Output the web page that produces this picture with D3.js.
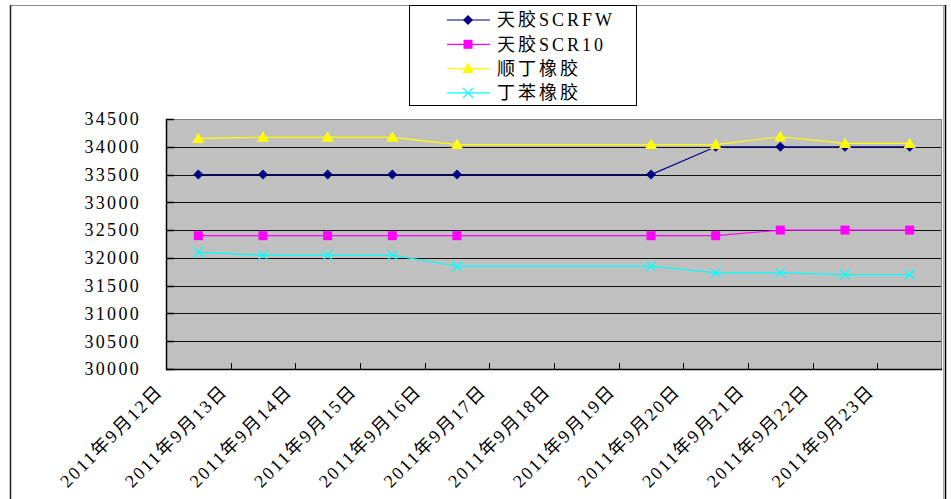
<!DOCTYPE html>
<html>
<head>
<meta charset="utf-8">
<script src="https://cdn.jsdelivr.net/npm/d3@7"></script>
<style>
  body { margin: 0; background: #fff; }
  text { font-family: "Liberation Serif", "Noto Sans CJK SC", serif; fill: #000; }
</style>
</head>
<body>
<div id="chart"></div>
<script>
var w = 951;
var h = 499;

// categories (x axis)
var days = ["2011年9月12日", "2011年9月13日", "2011年9月14日", "2011年9月15日",
            "2011年9月16日", "2011年9月17日", "2011年9月18日", "2011年9月19日",
            "2011年9月20日", "2011年9月21日", "2011年9月22日", "2011年9月23日"];

// series values, null = no quote that day
var scrfw = [33500, 33500, 33500, 33500, 33500, null, null, 33500, 34000, 34000, 34000, 34000];
var scr10 = [32400, 32400, 32400, 32400, 32400, null, null, 32400, 32400, 32500, 32500, 32500];
var shunding = [34150, 34170, 34170, 34170, 34040, null, null, 34040, 34040, 34180, 34060, 34060];
var dingben = [32100, 32050, 32050, 32050, 31850, null, null, 31850, 31730, 31730, 31700, 31700];

var seriesNames = ["天胶SCRFW", "天胶SCR10", "顺丁橡胶", "丁苯橡胶"];
var seriesColours = ["#000080", "#ff00ff", "#ffff00", "#00ffff"];
var seriesMarkers = ["diamond", "square", "triangle", "cross"];
var seriesValues = [scrfw, scr10, shunding, dingben];

var svg = d3.select("#chart").append("svg")
    .attr("width", w)
    .attr("height", h);

// plot area
var pLeft = 166, pRight = 942, pTop = 119, pBottom = 369;

var x = d3.scaleBand()
    .domain(days)
    .range([pLeft, pRight])
    .padding(0);

var y = d3.scaleLinear()
    .domain([30000, 34500])
    .range([pBottom, pTop]);

// outer chart border
svg.append("line").attr("x1", 10).attr("y1", 5.5).attr("x2", 945).attr("y2", 5.5)
    .attr("stroke", "#8a8a8a").attr("stroke-width", 1);
svg.append("line").attr("x1", 10.5).attr("y1", 5).attr("x2", 10.5).attr("y2", h)
    .attr("stroke", "#222").attr("stroke-width", 1.5);
svg.append("line").attr("x1", 943.5).attr("y1", 5).attr("x2", 943.5).attr("y2", h)
    .attr("stroke", "#aaa").attr("stroke-width", 1);
svg.append("line").attr("x1", 945.5).attr("y1", 5).attr("x2", 945.5).attr("y2", h)
    .attr("stroke", "#000").attr("stroke-width", 1.5);

// grey plot background
svg.append("rect")
    .attr("x", pLeft).attr("y", pTop)
    .attr("width", pRight - pLeft).attr("height", pBottom - pTop)
    .attr("fill", "#c0c0c0");

// horizontal gridlines + y labels
var yTicks = y.ticks(9);
svg.selectAll(".grid")
    .data(yTicks)
    .enter()
    .append("line")
    .attr("class", "grid")
    .attr("x1", pLeft).attr("x2", pRight)
    .attr("y1", function(d) { return Math.round(y(d)) + 0.5; })
    .attr("y2", function(d) { return Math.round(y(d)) + 0.5; })
    .attr("stroke", function(d) { return d == 34500 ? "#808080" : "#111"; })
    .attr("stroke-width", 1);

// small inner ticks on the y axis
svg.selectAll(".ytick")
    .data(yTicks)
    .enter()
    .append("line")
    .attr("x1", pLeft).attr("x2", pLeft + 8)
    .attr("y1", function(d) { return Math.round(y(d)) + 0.5; })
    .attr("y2", function(d) { return Math.round(y(d)) + 0.5; })
    .attr("stroke", "#000").attr("stroke-width", 1.5);

svg.selectAll(".ylab")
    .data(yTicks)
    .enter()
    .append("text")
    .attr("class", "ylab")
    .attr("x", 141)
    .attr("y", function(d) { return y(d); })
    .attr("dy", "0.35em")
    .attr("text-anchor", "end")
    .attr("font-size", "18px")
    .attr("letter-spacing", "2.3px")
    .text(function(d) { return d; });

// plot borders
svg.append("line").attr("x1", pRight - 0.5).attr("x2", pRight - 0.5).attr("y1", pTop).attr("y2", pBottom)
    .attr("stroke", "#808080");
svg.append("line").attr("x1", pLeft + 0.5).attr("x2", pLeft + 0.5).attr("y1", pTop).attr("y2", pBottom + 1)
    .attr("stroke", "#000").attr("stroke-width", 1.5);
svg.append("line").attr("x1", pLeft).attr("x2", pRight).attr("y1", pBottom + 0.5).attr("y2", pBottom + 0.5)
    .attr("stroke", "#000").attr("stroke-width", 1.5);

// x ticks at category boundaries (pointing inward)
var xEdges = days.map(function(d) { return x(d); }).concat([pRight]);
svg.selectAll(".xtick")
    .data(xEdges.slice(1, -1))
    .enter()
    .append("line")
    .attr("x1", function(d) { return Math.round(d) + 0.5; })
    .attr("x2", function(d) { return Math.round(d) + 0.5; })
    .attr("y1", pBottom - 6).attr("y2", pBottom)
    .attr("stroke", "#000");

// rotated category labels
svg.selectAll(".xlab")
    .data(days)
    .enter()
    .append("text")
    .attr("class", "xlab")
    .attr("text-anchor", "end")
    .attr("font-size", "18px")
    .attr("letter-spacing", "2px")
    .attr("transform", function(d) {
        return "translate(" + (x(d) - 2) + "," + 392 + ") rotate(-45)";
    })
    .text(function(d) { return d; });

// series lines and markers
var line = d3.line()
    .x(function(d) { return x(d.day) + x.bandwidth() / 2; })
    .y(function(d) { return y(d.value); });

function markerPath(type) {
    if (type == "diamond") return "M0,-5L5,0L0,5L-5,0Z";
    if (type == "square") return "M-4.5,-4.5H4.5V4.5H-4.5Z";
    if (type == "triangle") return "M0,-6L6,4.5L-6,4.5Z";
    return "M-5,-5L5,5M-5,5L5,-5";
}

seriesValues.forEach(function(vals, s) {
    var pts = [];
    vals.forEach(function(v, i) {
        if (v != null) pts.push({ day: days[i], value: v });
    });

    svg.append("path")
        .datum(pts)
        .attr("d", line)
        .attr("fill", "none")
        .attr("stroke", seriesColours[s])
        .attr("stroke-width", 1.2);

    svg.selectAll(".m" + s)
        .data(pts)
        .enter()
        .append("path")
        .attr("class", "m" + s)
        .attr("transform", function(d) {
            return "translate(" + (x(d.day) + x.bandwidth() / 2) + "," + y(d.value) + ")";
        })
        .attr("d", markerPath(seriesMarkers[s]))
        .attr("fill", seriesMarkers[s] == "cross" ? "none" : seriesColours[s])
        .attr("stroke", seriesColours[s])
        .attr("stroke-width", seriesMarkers[s] == "cross" ? 1.3 : 0);
});

// legend
var legend = svg.append("g");
legend.append("rect")
    .attr("x", 409.5).attr("y", 5.5)
    .attr("width", 227).attr("height", 100)
    .attr("fill", "#fff")
    .attr("stroke", "#000").attr("stroke-width", 1);

var rows = legend.selectAll(".row")
    .data(seriesNames)
    .enter()
    .append("g")
    .attr("transform", function(d, i) { return "translate(0," + (20 + i * 24.3) + ")"; });

rows.append("line")
    .attr("x1", 447).attr("x2", 490)
    .attr("y1", 0).attr("y2", 0)
    .attr("stroke", function(d, i) { return seriesColours[i]; })
    .attr("stroke-width", 1.2);

rows.append("path")
    .attr("transform", "translate(468,0)")
    .attr("d", function(d, i) { return markerPath(seriesMarkers[i]); })
    .attr("fill", function(d, i) { return seriesMarkers[i] == "cross" ? "none" : seriesColours[i]; })
    .attr("stroke", function(d, i) { return seriesColours[i]; })
    .attr("stroke-width", function(d, i) { return seriesMarkers[i] == "cross" ? 1.3 : 0; });

rows.append("text")
    .attr("x", 497)
    .attr("dy", "0.35em")
    .attr("font-size", "18px")
    .attr("letter-spacing", "3px")
    .text(function(d) { return d; });
</script>
</body>
</html>
